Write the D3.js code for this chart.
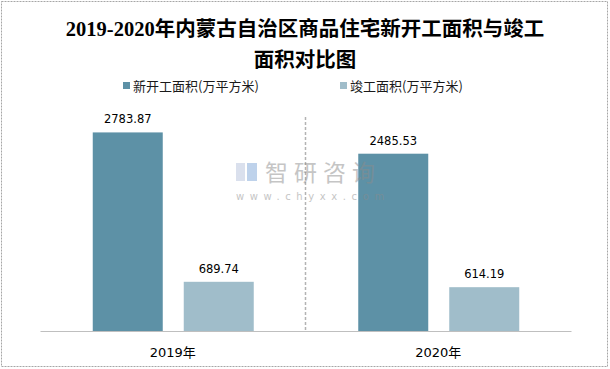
<!DOCTYPE html>
<html><head><meta charset="utf-8">
<script src="https://cdn.jsdelivr.net/npm/d3@7/dist/d3.min.js"></script>
<style>
html,body{margin:0;padding:0;background:#fff;}
svg{display:block;}
</style></head>
<body>
<script>
const titleLines = ["2019-2020年内蒙古自治区商品住宅新开工面积与竣工", "面积对比图"];
const categories = ["2019年", "2020年"];
const seriesNames = ["新开工面积(万平方米)", "竣工面积(万平方米)"];
const newStartValues = [2783.87, 2485.53];
const completedValues = [689.74, 614.19];
const seriesColors = ["#5d91a6", "#a0bdca"];
const yMax = 3000;

const W = 610, H = 369;
const svg = d3.select("body").append("svg").attr("width", W).attr("height", H);

// outer border
svg.append("rect").attr("x", 1.5).attr("y", 1.5).attr("width", W - 4).attr("height", H - 4)
  .attr("fill", "#fff").attr("stroke", "#a6a6a6").attr("stroke-width", 1).attr("stroke-dasharray", "2,1");

// title
const title = svg.append("text").attr("text-anchor", "middle")
  .attr("font-family", "'Liberation Serif','Noto Sans CJK SC',serif")
  .attr("font-weight", "bold").attr("font-size", "20.5px").attr("fill", "#000");
titleLines.forEach((t, i) => {
  title.append("tspan").attr("x", 305).attr("y", 36 + i * 31).text(t);
});

// scales
const x0 = d3.scaleBand().domain(categories).range([40, 571]).padding(0);
const x1 = d3.scaleBand().domain(seriesNames).range([0, 161]).paddingInner(21 / 91).paddingOuter(0);
const y = d3.scaleLinear().domain([0, yMax]).range([331, 117]);
const color = d3.scaleOrdinal().domain(seriesNames).range(seriesColors);

// separator dashed line
svg.append("line")
  .attr("x1", x0(categories[1])).attr("x2", x0(categories[1]))
  .attr("y1", y(yMax)).attr("y2", y(0))
  .attr("stroke", "#b3b3b3").attr("stroke-width", 1.5).attr("stroke-dasharray", "3,2");

// bars
const rows = categories.map((c, i) => ({cat: c, vals: [newStartValues[i], completedValues[i]]}));
const groups = svg.selectAll("g.grp").data(rows).enter().append("g")
  .attr("transform", d => `translate(${x0(d.cat) + x0.bandwidth() / 2 - 80.5 + 0.5},0)`);
groups.selectAll("rect").data(d => d.vals.map((v, j) => ({name: seriesNames[j], v})))
  .enter().append("rect")
  .attr("x", d => x1(d.name)).attr("width", x1.bandwidth())
  .attr("y", d => y(d.v)).attr("height", d => y(0) - y(d.v))
  .attr("fill", d => color(d.name));
groups.selectAll("text").data(d => d.vals.map((v, j) => ({name: seriesNames[j], v})))
  .enter().append("text")
  .attr("x", d => x1(d.name) + x1.bandwidth() / 2).attr("y", d => y(d.v) - 9)
  .attr("text-anchor", "middle")
  .attr("font-family", "'DejaVu Sans',sans-serif").attr("font-size", "11.5px").attr("fill", "#000")
  .text(d => d.v.toFixed(2));

// watermark (on top)
const wm = svg.append("g").attr("opacity", 0.5);
wm.append("rect").attr("x", 236).attr("y", 163).attr("width", 9).attr("height", 18).attr("fill", "#b7c3dc");
wm.append("rect").attr("x", 247).attr("y", 163).attr("width", 10).attr("height", 18).attr("fill", "#7fa6d8");
wm.append("text").attr("x", 265).attr("y", 181)
  .attr("font-family", "'Noto Sans CJK SC',sans-serif").attr("font-size", "23px")
  .attr("letter-spacing", "6px").attr("fill", "#8c8c8c").text("智研咨询");
wm.append("text").attr("x", 236).attr("y", 200)
  .attr("font-family", "'DejaVu Sans',sans-serif").attr("font-size", "10px")
  .attr("letter-spacing", "5.6px").attr("fill", "#8c8c8c").text("www.chyxx.com");

// baseline axis
const xAxis = d3.axisBottom(x0).tickSize(0).tickPadding(17);
const ax = svg.append("g").attr("transform", `translate(0,${y(0)})`).call(xAxis);
ax.select(".domain").attr("stroke", "#bfbfbf").attr("stroke-width", 1.2);
ax.selectAll("text").attr("font-family", "'DejaVu Sans','Noto Sans CJK SC',sans-serif")
  .attr("font-size", "13px").attr("fill", "#000");

// legend
const legendX = [123, 340];
const lg = svg.selectAll("g.lg").data(seriesNames).enter().append("g")
  .attr("transform", (d, i) => `translate(${legendX[i]},82)`);
lg.append("rect").attr("width", 7).attr("height", 7).attr("fill", d => color(d));
lg.append("text").attr("x", 10).attr("y", 9)
  .attr("font-family", "'Noto Sans CJK SC',sans-serif").attr("font-size", "13px").attr("fill", "#1a1a1a")
  .text(d => d);
</script>
</body></html>
